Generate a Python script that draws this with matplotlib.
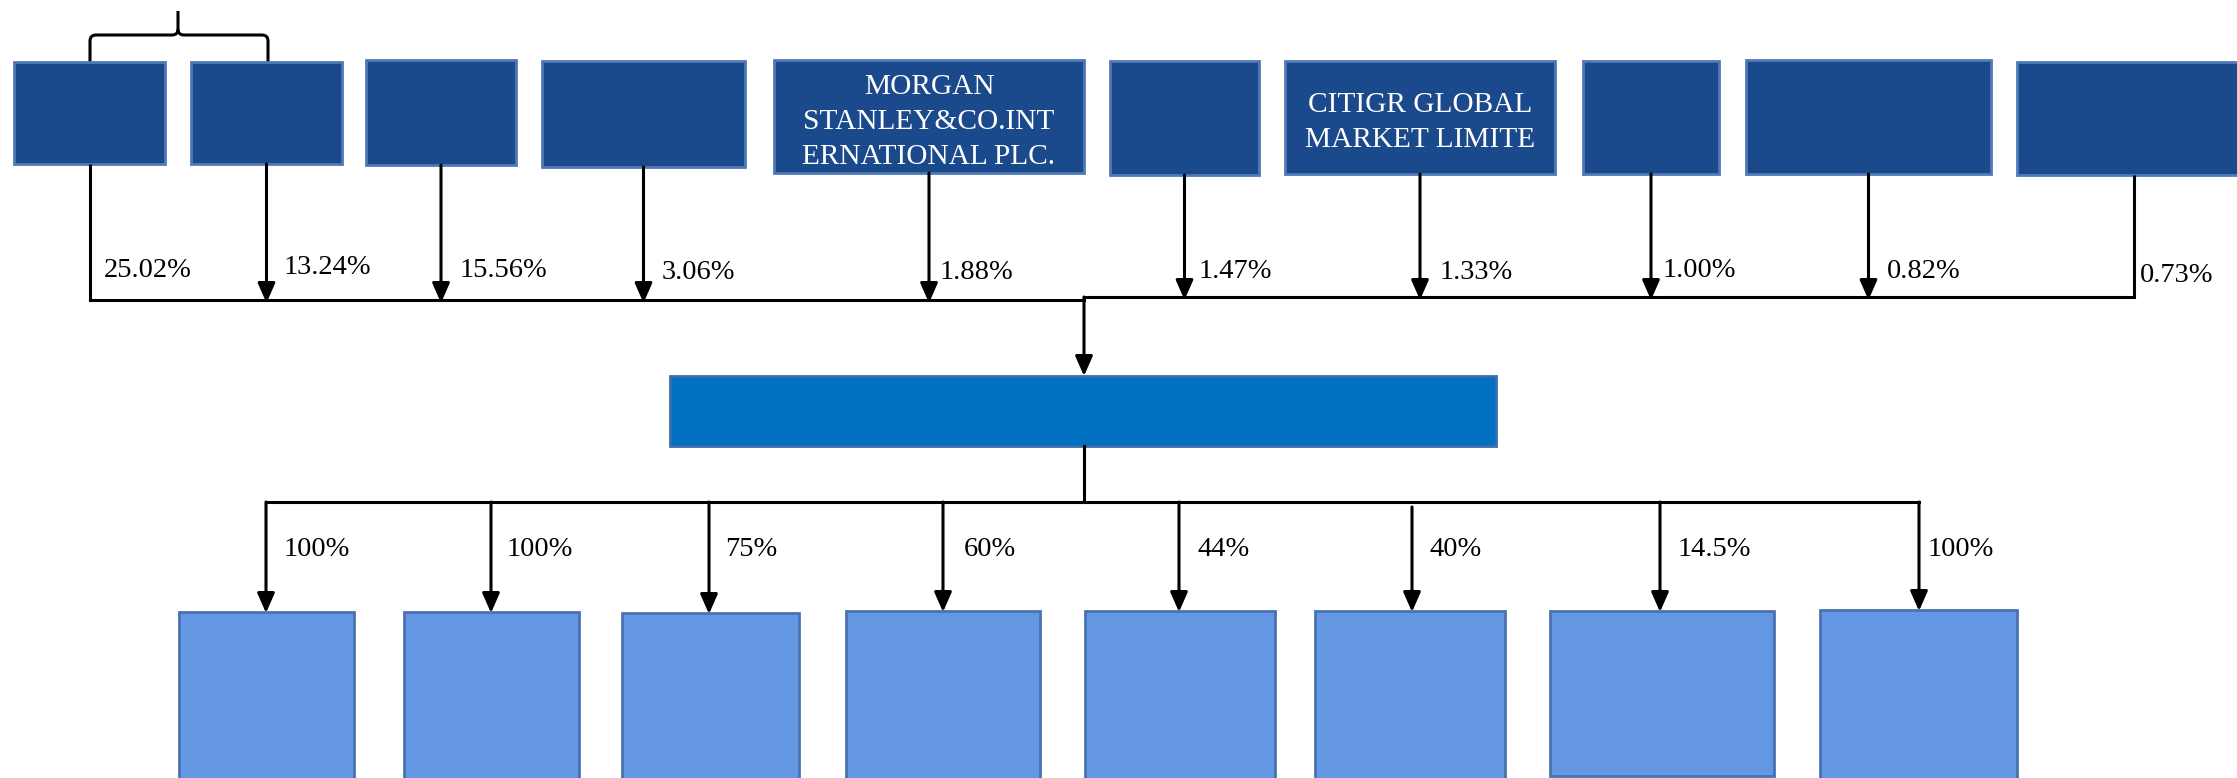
import matplotlib
matplotlib.use("Agg")
import matplotlib.pyplot as plt
from matplotlib.patches import Rectangle
from matplotlib.path import Path
from matplotlib.patches import PathPatch

# ---- data (text content) ----
top_names = ["", "", "", "", "MORGAN\nSTANLEY&CO.INT\nERNATIONAL PLC.", "",
             "CITIGR GLOBAL\nMARKET LIMITE", "", "", ""]
top_shares = ["25.02%", "13.24%", "15.56%", "3.06%", "1.88%", "1.47%",
              "1.33%", "1.00%", "0.82%", "0.73%"]
center_name = ""
sub_names = ["", "", "", "", "", "", "", ""]
sub_shares = ["100%", "100%", "75%", "60%", "44%", "40%", "14.5%", "100%"]

# ---- layout (pixel coordinates, y downward) ----
W, H = 2237, 778
top_x0 = [14, 191, 366, 542, 774, 1110, 1285, 1583, 1746, 2017]
top_x1 = [165, 342, 516, 745, 1084, 1259, 1555, 1719, 1991, 2250]
top_y0 = [62, 62, 60, 61, 60, 61, 61, 61, 60, 62]
top_y1 = [164, 164, 165, 167, 173, 175, 174, 174, 174, 175]
top_lbl_x = [104, 284, 460, 662, 940, 1199, 1440, 1663, 1887, 2140]
top_lbl_y = [270, 267, 270, 272, 272, 271, 272, 270, 271, 275]

c_x0, c_x1, c_y0, c_y1 = 670, 1496, 376, 446
junction_x = 1084

sub_x0 = [179, 404, 622, 846, 1085, 1315, 1550, 1820]
sub_x1 = [354, 579, 799, 1040, 1275, 1505, 1774, 2017]
sub_y0 = [612, 612, 613, 611, 611, 611, 611, 610]
sub_y1 = [800, 800, 800, 800, 800, 800, 776, 800]
sub_lbl_x = [284, 507, 725, 964, 1198, 1430, 1678, 1928]
sub_lbl_y = 549

TOP_FILL, TOP_EDGE = "#1A498C", "#5079B6"
SUB_FILL, SUB_EDGE = "#6396E3", "#4A72B0"
C_FILL, C_EDGE = "#0070C0", "#3A6DB0"

plt.rcParams['font.family'] = ['Liberation Serif', 'DejaVu Serif']

fig = plt.figure(figsize=(W / 100, H / 100), dpi=100)
ax = fig.add_axes([0, 0, 1, 1])
ax.set_xlim(0, W)
ax.set_ylim(H, 0)
ax.axis('off')

LW = 2.2
LBL_FS = 20.5
ARW = dict(arrowstyle='-|>,head_length=0.75,head_width=0.33', color='black',
           lw=LW, mutation_scale=16, shrinkA=0, shrinkB=0)


def arrow(x, ys, ye):
    ax.annotate('', xy=(x, ye), xytext=(x, ys), arrowprops=ARW)


# top boxes
for i, name in enumerate(top_names):
    ax.add_patch(Rectangle((top_x0[i], top_y0[i]), top_x1[i] - top_x0[i], top_y1[i] - top_y0[i],
                           facecolor=TOP_FILL, edgecolor=TOP_EDGE, lw=2, zorder=2))
    if name:
        cx = (top_x0[i] + top_x1[i]) / 2
        cy = (top_y0[i] + top_y1[i]) / 2 + 5
        ax.text(cx, cy, name, color='white', ha='center', va='center', fontsize=21.2,
                linespacing=1.45, zorder=3)

# top connectors
line_left_y, line_right_y = 300, 297
for i, lbl in enumerate(top_shares):
    cx = (top_x0[i] + top_x1[i]) / 2 if i < 9 else 2134
    yl = line_left_y if cx < junction_x else line_right_y
    if i == 0 or i == 9:
        ax.plot([cx, cx], [top_y1[i], yl], color='black', lw=LW, solid_capstyle='butt')
    else:
        arrow(cx, top_y1[i], yl + 3)
    ax.text(top_lbl_x[i], top_lbl_y[i], lbl, ha='left', va='center', fontsize=LBL_FS, color='black')

cx0 = (top_x0[0] + top_x1[0]) / 2
ax.plot([cx0, junction_x], [line_left_y, line_left_y], color='black', lw=LW)
ax.plot([junction_x, 2134], [line_right_y, line_right_y], color='black', lw=LW)
arrow(junction_x, line_right_y, c_y0)

# bracket over first two boxes
bl, br, bm = 90, 268, 178
by, btop, r = 35, 11, 6
verts = [(bl, 62), (bl, by + r), (bl, by), (bl + r, by), (bm - r, by), (bm, by), (bm, by - r), (bm, btop)]
codes = [Path.MOVETO, Path.LINETO, Path.CURVE3, Path.CURVE3, Path.LINETO, Path.CURVE3, Path.CURVE3, Path.LINETO]
ax.add_patch(PathPatch(Path(verts, codes), fill=False, lw=LW, edgecolor='black'))
verts2 = [(br, 62), (br, by + r), (br, by), (br - r, by), (bm + r, by), (bm, by), (bm, by - r)]
codes2 = [Path.MOVETO, Path.LINETO, Path.CURVE3, Path.CURVE3, Path.LINETO, Path.CURVE3, Path.CURVE3]
ax.add_patch(PathPatch(Path(verts2, codes2), fill=False, lw=LW, edgecolor='black'))

# center box
ax.add_patch(Rectangle((c_x0, c_y0), c_x1 - c_x0, c_y1 - c_y0, facecolor=C_FILL,
                       edgecolor=C_EDGE, lw=2, zorder=2))
if center_name:
    ax.text((c_x0 + c_x1) / 2, (c_y0 + c_y1) / 2, center_name, color='white',
            ha='center', va='center', fontsize=20)

# bottom connectors
bot_y = 502
arrow_x = [266, 491, 709, 943, 1179, 1412, 1660, 1919]
ax.plot([junction_x, junction_x], [c_y1, bot_y], color='black', lw=LW)
ax.plot([arrow_x[0], arrow_x[-1]], [bot_y, bot_y], color='black', lw=LW)
for i, lbl in enumerate(sub_shares):
    ys = bot_y if i != 5 else bot_y + 5
    arrow(arrow_x[i], ys, sub_y0[i] + 1)
    ax.text(sub_lbl_x[i], sub_lbl_y, lbl, ha='left', va='center', fontsize=LBL_FS, color='black')

# bottom boxes
for i, name in enumerate(sub_names):
    ax.add_patch(Rectangle((sub_x0[i], sub_y0[i]), sub_x1[i] - sub_x0[i], sub_y1[i] - sub_y0[i],
                           facecolor=SUB_FILL, edgecolor=SUB_EDGE, lw=2, zorder=2))
    if name:
        ax.text((sub_x0[i] + sub_x1[i]) / 2, (sub_y0[i] + 778) / 2, name, color='white',
                ha='center', va='center')

fig.savefig("out.png", dpi=100)
